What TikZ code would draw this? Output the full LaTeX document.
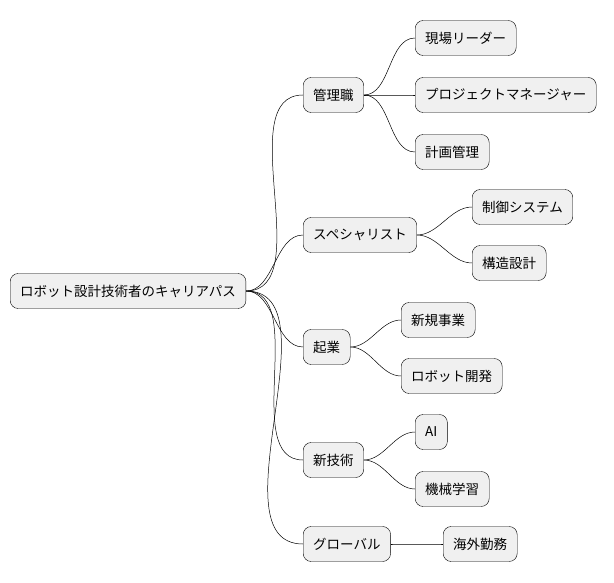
\documentclass[tikz,border=0pt]{standalone}
\usepackage{fontspec}
\setmainfont{Noto Sans CJK JP}
\usetikzlibrary{positioning}

\tikzset{
    topic/.style={draw=black, fill=black!6, rounded corners=8pt, anchor=west,
        minimum height=35pt, inner xsep=10pt, font=\fontsize{13.5}{15}\selectfont},
    branch/.style={draw=black, line width=0.5pt}
}

\begin{document}
\begin{tikzpicture}[x=1pt, y=-1pt]
    \useasboundingbox (0,0) rectangle (614,583);
    % root and main branches
    \node[topic] (root) at (10,291) {ロボット設計技術者のキャリアパス};
    \node[topic] (mgmt) at (303,95) {管理職};
    \node[topic] (spec) at (303,235) {スペシャリスト};
    \node[topic] (start) at (303,347) {起業};
    \node[topic] (tech) at (303,460) {新技術};
    \node[topic] (glob) at (303,544) {グローバル};

    % leaves
    \node[topic] (lead) at (415,38) {現場リーダー};
    \node[topic] (pm) at (415,95) {プロジェクトマネージャー};
    \node[topic] (plan) at (415,152) {計画管理};
    \node[topic] (ctrl) at (472,207) {制御システム};
    \node[topic] (struct) at (472,263) {構造設計};
    \node[topic] (biz) at (401,320) {新規事業};
    \node[topic] (robo) at (401,376) {ロボット開発};
    \node[topic] (ai) at (415,432) {AI};
    \node[topic] (ml) at (415,489) {機械学習};
    \node[topic] (abroad) at (443,544) {海外勤務};

    % connectors
    \foreach \p/\c in {root/mgmt, root/spec, root/start, root/tech, root/glob,
        mgmt/lead, mgmt/pm, mgmt/plan, spec/ctrl, spec/struct,
        start/biz, start/robo, tech/ai, tech/ml, glob/abroad} {
        \draw[branch] (\p.east) to[out=0, in=180, looseness=0.9] (\c.west);
    }
\end{tikzpicture}
\end{document}
